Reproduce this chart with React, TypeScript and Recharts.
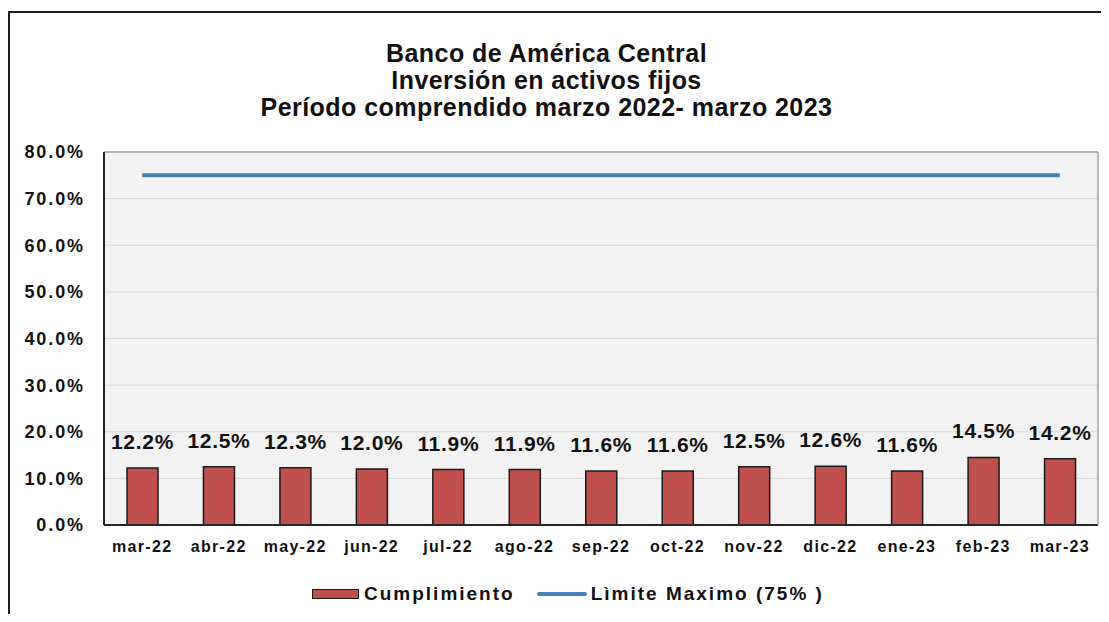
import { ComposedChart, Bar, Line, XAxis, YAxis, CartesianGrid, LabelList } from "recharts";

const months = ["mar-22", "abr-22", "may-22", "jun-22", "jul-22", "ago-22", "sep-22", "oct-22", "nov-22", "dic-22", "ene-23", "feb-23", "mar-23"];
const cumplimiento = [12.2, 12.5, 12.3, 12.0, 11.9, 11.9, 11.6, 11.6, 12.5, 12.6, 11.6, 14.5, 14.2];
const limiteMaximo = [75, 75, 75, 75, 75, 75, 75, 75, 75, 75, 75, 75, 75];
const yTicks = [0, 10, 20, 30, 40, 50, 60, 70, 80];

const titleLines = ["Banco de América Central", "Inversión en activos fijos", "Período comprendido marzo 2022- marzo 2023"];

const FONT = "'Liberation Sans', Arial, sans-serif";
const BAR_RED = "#c0504d";
const LINE_BLUE = "#4a7ebb";

const pct = (v: number) => `${v.toFixed(1)}%`;

// legend drawn as plain html so it doesn't eat into the plot height
function ChartLegend() {
  return (
    <div style={{ position: "absolute", left: 302, top: 570, display: "flex", alignItems: "center", fontFamily: FONT, fontWeight: 700, fontSize: 19, letterSpacing: 2, color: "#111", whiteSpace: "nowrap" }}>
      <span style={{ display: "inline-block", width: 45, height: 8, background: BAR_RED, border: "1.5px solid #1a1a1a", marginRight: 5 }} />
      <span style={{ marginRight: 22 }}>Cumplimiento</span>
      <span style={{ display: "inline-block", width: 50, height: 4, background: LINE_BLUE, borderRadius: 2, marginRight: 4 }} />
      <span>Lìmite Maximo (75% )</span>
    </div>
  );
}

export default function App() {
  const data = months.map((m, i) => ({ month: m, cumplimiento: cumplimiento[i], limite: limiteMaximo[i] }));

  return (
    <div style={{ width: 1101, height: 606, paddingTop: 3, boxSizing: "border-box", overflow: "hidden" }}>
      <div style={{ position: "relative", height: 603, borderTop: "2px solid #1e1e1e", borderLeft: "2px solid #1e1e1e", boxSizing: "border-box", background: "#fff" }}>
        <div style={{ position: "absolute", left: -26, right: 0, top: 27, textAlign: "center", fontFamily: FONT, fontWeight: 700, fontSize: 25, lineHeight: "27px", letterSpacing: 0.45, color: "#111" }}>
          {titleLines.map((t) => (
            <div key={t}>{t}</div>
          ))}
        </div>
        <div style={{ position: "absolute", left: -10, top: -13 }}>
          <ComposedChart width={1111} height={616} data={data} margin={{ top: 151, right: 12, left: 26, bottom: 51 }}>
            <CartesianGrid xAxisId="b" yAxisId="l" vertical={false} stroke="#d9d9d9" fill="#f2f2f2" />
            <XAxis xAxisId="b" dataKey="month" tickLine={false} axisLine={{ stroke: "#262626", strokeWidth: 2 }} tick={{ fill: "#111", fontSize: 16, fontWeight: 700, fontFamily: FONT, letterSpacing: 1.3 }} tickMargin={10} height={40} />
            <XAxis xAxisId="t" dataKey="month" orientation="top" tick={false} tickLine={false} height={1} axisLine={{ stroke: "#a0a0a0", strokeWidth: 1.5 }} />
            <YAxis yAxisId="l" domain={[0, 80]} ticks={yTicks} tickFormatter={pct} tickLine={false} axisLine={{ stroke: "#262626", strokeWidth: 2 }} tick={{ fill: "#111", fontSize: 18, fontWeight: 700, fontFamily: FONT, letterSpacing: 1.9 }} width={78} tickMargin={13} interval={0} />
            <YAxis yAxisId="r" orientation="right" domain={[0, 80]} ticks={yTicks} tick={false} tickLine={false} width={1} axisLine={{ stroke: "#a0a0a0", strokeWidth: 1.5 }} />
            <Bar xAxisId="b" yAxisId="l" dataKey="cumplimiento" name="Cumplimiento" fill={BAR_RED} stroke="#1a1a1a" strokeWidth={1.5} barSize={31} isAnimationActive={false}>
              <LabelList dataKey="cumplimiento" position="top" offset={19} formatter={(v: any) => pct(Number(v))} style={{ fill: "#111", fontSize: 21, fontWeight: 700, fontFamily: FONT, letterSpacing: 0.7 }} />
            </Bar>
            <Line xAxisId="b" yAxisId="l" dataKey="limite" name="Lìmite Maximo (75%)" stroke={LINE_BLUE} strokeWidth={4} dot={false} activeDot={false} isAnimationActive={false} />
          </ComposedChart>
        </div>
        <ChartLegend />
      </div>
    </div>
  );
}
